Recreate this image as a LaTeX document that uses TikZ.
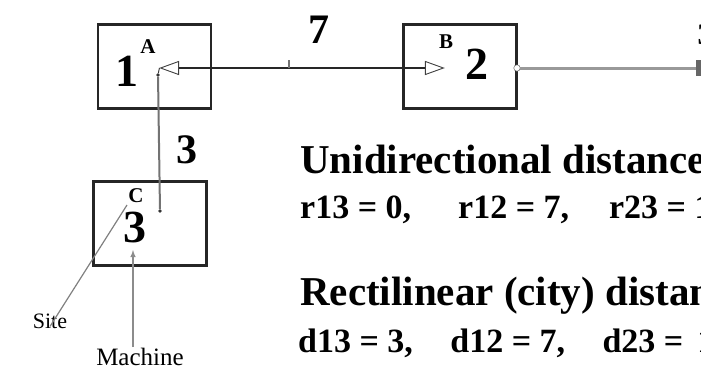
\documentclass[tikz,border=0pt]{standalone}
\usepackage{fontspec}
\setmainfont{Liberation Serif}
\usetikzlibrary{shapes.geometric}
\usetikzlibrary{positioning}

\begin{document}
\begin{tikzpicture}[x=1pt,y=-1pt,every path/.style={>=latex},
	dept/.style={draw=black!85,rectangle,line width=2.2pt,minimum width=113pt,minimum height=84pt},
	big/.style={font=\fontsize{46}{46}\selectfont\bfseries,inner sep=0pt},
	tag/.style={font=\fontsize{21}{21}\selectfont\bfseries,inner sep=0pt},
	pin/.style={draw=black!75,fill=white,isosceles triangle,isosceles triangle stretches,minimum width=13pt,minimum height=18pt,inner sep=0pt,line width=0.9pt},
	wire/.style={draw=black!55,line width=2pt},
	head/.style={anchor=base west,inner sep=0pt,font=\fontsize{41}{41}\selectfont\bfseries},
	vals/.style={anchor=base west,inner sep=0pt,font=\fontsize{34}{34}\selectfont\bfseries}]
		\useasboundingbox (0,0) rectangle (701,370);

		% draw departments
		\node (D1) at (154.5,66.5) [dept] {};
		\node (D2) at (460,66.5) [dept] {};
		\node (D3) at (150,223.5) [dept] {};

		% draw department numbers and site letters
		\node (N1) at (127,71) [big] {1};
		\node (N2) at (477,64) [big] {2};
		\node (N3) at (135,227) [big] {3};
		\node (LA) at (148,47) [tag] {A};
		\node (LB) at (446,42) [tag] {B};
		\node (LC) at (136,196) [tag] {C};

		% draw pick up / drop off points
		\node (pA) at (174,68) [pin,shape border rotate=180] {};
		\node (pB) at (430,68) [pin] {};
		\node (dA) at (158,75) [circle,fill=black!80,inner sep=1.3pt] {};
		\node (dC) at (160,211) [circle,fill=black!80,inner sep=1.3pt] {};
		\node (oB) at (517,68) [circle,draw=black!70,fill=white,inner sep=2.3pt] {};

		% draw flow lines
		\draw[line width=1.5pt,black!85] (pA.east) to (pB.west);
		\draw[black!80,line width=0.9pt] (dA) to (pA.apex);
		\draw[wire] (dC) to (dA);
		\coordinate (t7) at (289,68);
		\draw[black!55,line width=1.2pt] (t7) to ++(0,-8);
		\coordinate (out) at (701,68);
		\draw[draw=black!40,line width=3pt] (oB) to (out);
		\node (mk) at (698,68) [rectangle,fill=black!60,minimum width=5pt,minimum height=16pt,inner sep=0pt] {};
		\node (N4) at (705,35) [tag,font=\fontsize{30}{30}\selectfont\bfseries] {3};

		% draw distance labels
		\node (L7) at (319,30) [big,font=\fontsize{42}{42}\selectfont\bfseries] {7};
		\node (L3) at (187,150) [big,font=\fontsize{42}{42}\selectfont\bfseries] {3};

		% draw site and machine callouts
		\coordinate (sC) at (127,205);
		\node (site) at (50,321) [font=\fontsize{22}{22}\selectfont,inner sep=1pt] {Site};
		\draw[black!50,line width=1.2pt] (sC) to ([yshift=-14pt]site.north);
		\coordinate (mC) at (133,250);
		\node (mach) at (140,357) [font=\fontsize{25}{25}\selectfont,inner sep=1pt] {Machine};
		\draw[->,black!45,line width=1.4pt] (mach.north -| mC) to (mC);

		% draw distance texts
		\node (H1) at (300,173) [head] {Unidirectional distance};
		\node (R1) at (300,218) [vals] {r13 = 0,\hspace{47pt}r12 = 7,\hspace{40pt}r23 = 1};
		\node (H2) at (300,305) [head] {Rectilinear (city) distance};
		\node (R2) at (298,352) [vals] {d13 = 3,\hspace{1.1em}d12 = 7,\hspace{1.1em}d23 =\hspace{14pt}1};
	\end{tikzpicture}
\end{document}
